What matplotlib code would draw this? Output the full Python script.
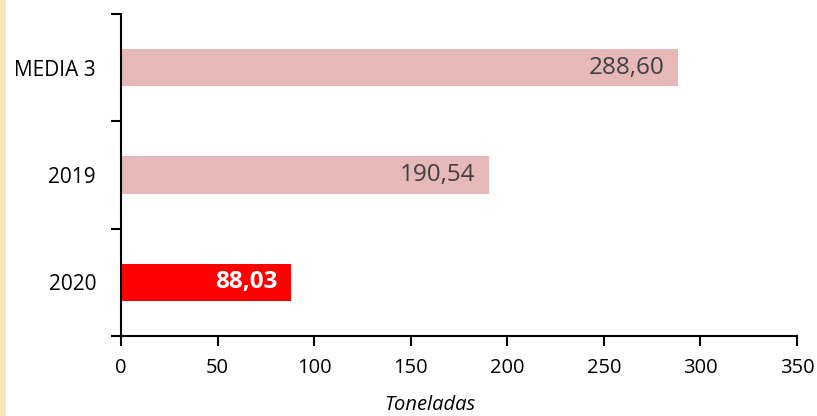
import matplotlib
matplotlib.use("Agg")
import matplotlib.pyplot as plt
from matplotlib.patches import Rectangle

categories = ["2020", "2019", "MEDIA 3"]
values = [88.03, 190.54, 288.60]
labels = ["88,03", "190,54", "288,60"]
colors = ["#ff0000", "#e6b8b7", "#e6b8b7"]
label_colors = ["white", "#404040", "#404040"]
label_weights = ["bold", "normal", "normal"]
xticks = [0, 50, 100, 150, 200, 250, 300, 350]

plt.rcParams["font.family"] = ["Open Sans", "DejaVu Sans"]

fig = plt.figure(figsize=(8.17, 4.16), dpi=100)
fig.patch.set_facecolor("white")
fig.patches.append(Rectangle((0, 0), 6 / 817, 1, transform=fig.transFigure,
                             facecolor="#f5e6b8", edgecolor="none", zorder=0))

ax = fig.add_axes([121 / 817, 1 - 336 / 416, (797 - 121) / 817, (336 - 14) / 416])
y = list(range(len(categories)))
ax.barh(y, values, height=0.35, color=colors, zorder=2)

for yi, v, lab, c, w in zip(y, values, labels, label_colors, label_weights):
    ax.text(v - 7, yi, lab, ha="right", va="center", color=c,
            fontsize=17.5, fontweight=w, zorder=3)

ax.set_xlim(0, 350)
ax.set_ylim(-0.5, len(categories) - 0.5)
ax.set_xticks(xticks)
ax.set_xticklabels([str(t) for t in xticks])
ax.set_yticks(y)
ax.set_yticklabels(categories)
ax.set_yticks([-0.5, 0.5, 1.5, 2.5], minor=True)
ax.tick_params(axis="y", which="major", length=0, pad=18, labelsize=15, colors="#000000")
ax.tick_params(axis="y", which="minor", length=7, width=1.5, direction="out")
ax.tick_params(axis="x", which="major", length=7, width=1.5, direction="out",
               labelsize=14.5, pad=9)

for s in ["top", "right"]:
    ax.spines[s].set_visible(False)
for s in ["left", "bottom"]:
    ax.spines[s].set_linewidth(1.5)
    ax.spines[s].set_color("#000000")

fig.text(430 / 817, 1 - 405 / 416, "Toneladas", ha="center", va="center",
         fontsize=14.5, style="italic", color="#000000")

fig.savefig("out.png", dpi=100)
